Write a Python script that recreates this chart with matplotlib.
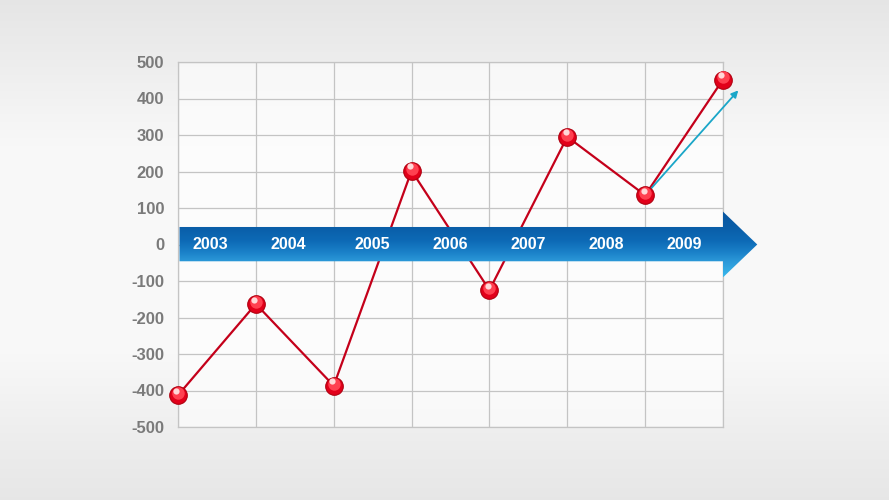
import numpy as np
import matplotlib
matplotlib.use("Agg")
import matplotlib.pyplot as plt
from matplotlib.patches import Polygon, FancyArrowPatch
from matplotlib.colors import LinearSegmentedColormap

years = ["2003", "2004", "2005", "2006", "2007", "2008", "2009"]
values = [-413, -163, -387, 202, -125, 295, 135, 452]
trend_end = (7.22, 428)
yticks = [-500, -400, -300, -200, -100, 0, 100, 200, 300, 400, 500]

plt.rcParams['font.family'] = ['Liberation Sans', 'DejaVu Sans']
plt.rcParams['axes.unicode_minus'] = False

W, H = 889, 500
fig = plt.figure(figsize=(W / 100, H / 100), dpi=100)

# background gradient
bg = fig.add_axes([0, 0, 1, 1], zorder=-10)
bg.axis("off")
t = np.linspace(0, 1, 256)
prof = np.interp(t, [0, 0.12, 0.3, 0.7, 0.88, 1.0], [0.90, 0.93, 0.975, 0.975, 0.93, 0.905])
img = np.repeat(prof[:, None], 4, axis=1)
bg.imshow(np.dstack([img, img, img]), aspect="auto", extent=[0, 1, 0, 1])
bg.set_xlim(0, 1); bg.set_ylim(0, 1)

ax = fig.add_axes([178 / W, 1 - 427 / H, (723 - 178) / W, (427 - 62) / H])
ax.set_facecolor((1, 1, 1, 0.6))
ax.set_xlim(0, 7)
ax.set_ylim(-500, 500)
ax.set_yticks(yticks)
ax.set_xticks(range(8))
ax.set_xticklabels([])
ax.grid(True, color="#c4c4c4", linewidth=0.9)
ax.set_axisbelow(True)
for s in ax.spines.values():
    s.set_color("#c4c4c4")
    s.set_linewidth(0.9)
ax.tick_params(length=0, pad=10, labelsize=12, labelcolor="#7a7a7a")
for lab in ax.get_yticklabels():
    lab.set_fontweight("bold")

# blue arrow band
band_top, band_bot = 48, -46
head_top, head_bot = 90, -90
tip_x = 7.44
verts = [(0.02, band_top), (7, band_top), (7, head_top), (tip_x, 0),
         (7, head_bot), (7, band_bot), (0.02, band_bot)]
poly = Polygon(verts, closed=True, facecolor="none", edgecolor="none", clip_on=False, zorder=3)
ax.add_patch(poly)
cmap = LinearSegmentedColormap.from_list(
    "b", [(0, "#0a56a0"), (0.25, "#0a5ea8"), (0.45, "#0d6ab6"), (0.62, "#1a80c8"),
          (0.76, "#2b98d8"), (1.0, "#3ab8ec")])
grad = np.linspace(0, 1, 256)[:, None]
im = ax.imshow(grad, cmap=cmap, aspect="auto", extent=[0, tip_x, head_bot, head_top],
               origin="upper", zorder=3)
im.set_clip_path(poly)
im.set_clip_box(fig.bbox)
im.set_clip_on(True)
ax.set_xlim(0, 7)
ax.set_ylim(-500, 500)

for i, y in enumerate(years):
    ax.text(i + 0.42 if i < 2 else i + 0.5, 0, y, color="white", fontsize=11.5, fontweight="bold",
            ha="center", va="center", zorder=4)

# trend arrow
arr = FancyArrowPatch((6, values[6]), trend_end, arrowstyle="-|>", mutation_scale=10,
                      color="#1aa6c8", linewidth=1.3, zorder=5, clip_on=False)
ax.add_patch(arr)

# red line (behind band) with spheres (on top)
xs = np.arange(len(values))
ax.plot(xs, values, color="#c4001a", linewidth=1.6, zorder=2.5, clip_on=False)
ax.scatter(xs, values, s=160, color="#e2001a", edgecolors="#b00010", linewidths=0.8, zorder=7, clip_on=False)
ax.scatter(xs, np.array(values) + 6, s=80, color="#ff4050", linewidths=0, zorder=8, clip_on=False)
ax.scatter(xs - 0.02, np.array(values) + 12, s=20, color="#ffd8d8", linewidths=0, zorder=9, clip_on=False)

fig.savefig("out.png", dpi=100)
